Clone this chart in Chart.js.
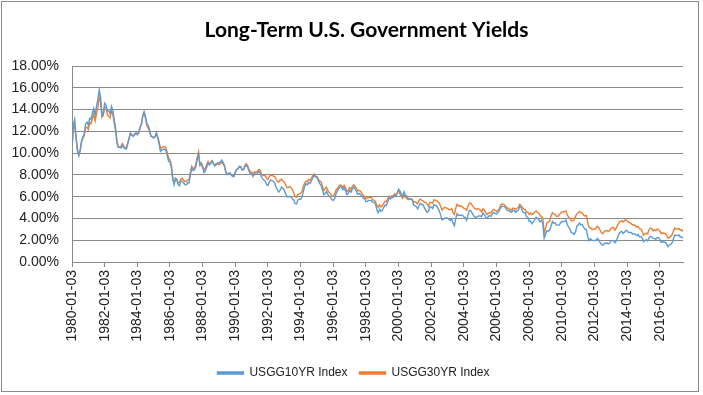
<!DOCTYPE html>
<html>
<head>
<meta charset="utf-8">
<script src="https://cdn.jsdelivr.net/npm/chart.js@4.4.1/dist/chart.umd.min.js"></script>
<style>
  html, body { margin: 0; padding: 0; background: #fff; }
  #wrap { width: 703px; height: 395px; position: relative; }
</style>
</head>
<body>
<div id="wrap"><canvas id="c" width="703" height="395"></canvas></div>
<script>
// Monthly observations, first month = January 1980
const startYear = 1980;
const chartTitle = 'Long-Term U.S. Government Yields';
const seriesNames = ["USGG10YR Index", "USGG30YR Index"];
const yTicks = [0, 2, 4, 6, 8, 10, 12, 14, 16, 18];
const xTickYears = [1980,1982,1984,1986,1988,1990,1992,1994,1996,1998,2000,2002,2004,2006,2008,2010,2012,2014,2016];

const us10y = [
  10.50, 12.60, 13.10, 11.47, 10.18, 9.78, 10.25, 11.10, 11.51, 11.75, 12.68, 12.84,
  12.57, 13.19, 13.12, 13.68, 14.10, 13.47, 14.28, 14.94, 15.80, 15.15, 13.39, 13.72,
  14.59, 14.43, 13.86, 13.87, 13.62, 14.30, 13.95, 13.06, 12.34, 10.91, 10.55, 10.54,
  10.46, 10.72, 10.51, 10.40, 10.38, 10.85, 11.38, 11.85, 11.65, 11.54, 11.69, 11.83,
  11.67, 11.84, 12.32, 12.63, 13.41, 13.80, 13.36, 12.72, 12.52, 12.16, 11.57, 11.50,
  11.38, 11.51, 11.86, 11.43, 10.85, 10.16, 10.31, 10.33, 10.37, 10.24, 9.78, 9.26,
  9.19, 8.70, 7.60, 7.10, 7.71, 7.60, 7.10, 7.00, 7.45, 7.43, 7.25, 7.11,
  7.08, 7.25, 7.25, 8.02, 8.61, 8.40, 8.45, 8.76, 9.42, 9.90, 8.86, 8.99,
  8.67, 8.21, 8.37, 8.72, 9.09, 8.92, 9.06, 9.26, 8.98, 8.80, 8.96, 9.11,
  9.09, 9.17, 9.36, 9.18, 8.86, 8.28, 8.02, 8.11, 8.19, 8.01, 7.87, 7.84,
  8.21, 8.47, 8.59, 8.79, 8.76, 8.48, 8.47, 8.75, 8.89, 8.72, 8.39, 8.08,
  8.09, 7.85, 8.11, 8.04, 8.07, 8.28, 8.27, 7.90, 7.65, 7.53, 7.42, 7.09,
  7.03, 7.34, 7.54, 7.48, 7.39, 7.26, 6.84, 6.59, 6.42, 6.59, 6.87, 6.77,
  6.60, 6.26, 5.98, 5.97, 6.04, 5.96, 5.81, 5.68, 5.36, 5.33, 5.72, 5.77,
  5.75, 5.97, 6.48, 6.97, 7.18, 7.10, 7.30, 7.24, 7.46, 7.74, 7.96, 7.81,
  7.78, 7.47, 7.20, 7.06, 6.63, 6.17, 6.28, 6.49, 6.20, 6.04, 5.93, 5.71,
  5.65, 5.81, 6.27, 6.51, 6.74, 6.91, 6.87, 6.64, 6.83, 6.53, 6.20, 6.30,
  6.58, 6.42, 6.69, 6.89, 6.71, 6.49, 6.22, 6.30, 6.21, 6.03, 5.88, 5.81,
  5.54, 5.57, 5.65, 5.64, 5.65, 5.50, 5.46, 5.34, 4.81, 4.53, 4.83, 4.65,
  4.72, 5.00, 5.23, 5.18, 5.54, 5.90, 5.79, 5.94, 5.92, 6.11, 6.03, 6.28,
  6.66, 6.52, 6.26, 5.99, 6.44, 6.10, 6.05, 5.83, 5.80, 5.74, 5.72, 5.24,
  5.16, 5.10, 4.89, 5.14, 5.39, 5.28, 5.24, 4.97, 4.73, 4.57, 4.65, 5.09,
  5.04, 4.91, 5.28, 5.21, 5.16, 4.93, 4.65, 4.26, 3.87, 3.94, 4.05, 4.03,
  4.05, 3.90, 3.81, 3.96, 3.57, 3.33, 3.98, 4.45, 4.27, 4.29, 4.30, 4.27,
  4.15, 4.08, 3.83, 4.35, 4.72, 4.73, 4.50, 4.28, 4.13, 4.10, 4.19, 4.23,
  4.22, 4.17, 4.50, 4.34, 4.14, 4.00, 4.18, 4.26, 4.20, 4.46, 4.54, 4.47,
  4.42, 4.57, 4.72, 4.99, 5.11, 5.11, 5.09, 4.88, 4.72, 4.73, 4.60, 4.56,
  4.76, 4.72, 4.56, 4.69, 4.75, 5.10, 5.00, 4.67, 4.52, 4.53, 4.15, 4.10,
  3.74, 3.74, 3.51, 3.68, 3.88, 4.10, 4.01, 3.89, 3.69, 3.81, 3.53, 2.20,
  2.52, 2.87, 2.82, 2.93, 3.29, 3.72, 3.56, 3.59, 3.40, 3.39, 3.40, 3.59,
  3.73, 3.69, 3.73, 3.85, 3.42, 3.20, 3.01, 2.70, 2.65, 2.54, 2.76, 3.29,
  3.39, 3.58, 3.41, 3.46, 3.17, 3.00, 3.00, 2.30, 1.98, 2.15, 2.01, 1.98,
  1.97, 1.97, 2.17, 2.05, 1.80, 1.62, 1.53, 1.68, 1.72, 1.75, 1.65, 1.72,
  1.91, 1.98, 1.96, 1.76, 1.93, 2.30, 2.58, 2.74, 2.81, 2.62, 2.72, 2.90,
  2.86, 2.71, 2.72, 2.71, 2.56, 2.60, 2.54, 2.42, 2.53, 2.30, 2.33, 2.21,
  1.88, 1.98, 2.04, 1.94, 2.20, 2.36, 2.32, 2.17, 2.17, 2.07, 2.26, 2.24,
  2.09, 1.78, 1.89, 1.81, 1.81, 1.64, 1.42, 1.56, 1.63, 1.76, 2.14, 2.49,
  2.43, 2.42, 2.48, 2.30, 2.30, 2.19
];

const us30y = [
  10.30, 12.30, 12.50, 11.40, 10.36, 9.81, 10.24, 11.00, 11.34, 11.59, 12.37, 12.40,
  12.14, 12.80, 12.69, 13.20, 13.60, 12.96, 13.59, 14.17, 15.10, 14.68, 13.35, 13.45,
  14.22, 14.22, 13.53, 13.37, 13.24, 13.92, 13.55, 12.77, 12.07, 11.17, 10.54, 10.54,
  10.63, 10.88, 10.63, 10.48, 10.53, 10.93, 11.40, 11.82, 11.63, 11.58, 11.75, 11.88,
  11.75, 11.95, 12.38, 12.65, 13.43, 13.70, 13.21, 12.54, 12.29, 11.98, 11.56, 11.52,
  11.45, 11.47, 11.81, 11.47, 11.05, 10.44, 10.50, 10.56, 10.61, 10.50, 10.06, 9.54,
  9.40, 8.93, 7.80, 7.30, 7.52, 7.57, 7.27, 7.33, 7.62, 7.70, 7.52, 7.37,
  7.39, 7.54, 7.55, 8.25, 8.78, 8.57, 8.64, 8.97, 9.59, 10.10, 8.95, 9.12,
  8.83, 8.43, 8.63, 8.95, 9.23, 9.00, 9.14, 9.32, 9.06, 8.89, 9.02, 9.01,
  8.93, 9.01, 9.17, 9.03, 8.83, 8.27, 8.08, 8.12, 8.15, 8.00, 7.90, 7.90,
  8.26, 8.50, 8.56, 8.76, 8.73, 8.46, 8.50, 8.86, 9.03, 8.86, 8.54, 8.24,
  8.27, 8.03, 8.29, 8.21, 8.27, 8.47, 8.45, 8.14, 7.95, 7.93, 7.92, 7.70,
  7.58, 7.85, 7.97, 7.96, 7.89, 7.84, 7.60, 7.39, 7.34, 7.53, 7.61, 7.44,
  7.34, 7.09, 6.82, 6.85, 6.92, 6.81, 6.63, 6.32, 6.00, 5.94, 6.21, 6.25,
  6.29, 6.49, 6.91, 7.27, 7.41, 7.40, 7.58, 7.49, 7.71, 7.94, 8.08, 7.87,
  7.85, 7.61, 7.45, 7.36, 6.95, 6.57, 6.72, 6.86, 6.55, 6.37, 6.26, 6.06,
  6.05, 6.24, 6.60, 6.79, 6.93, 7.06, 7.03, 6.84, 7.03, 6.81, 6.48, 6.55,
  6.83, 6.69, 6.93, 7.09, 6.94, 6.77, 6.51, 6.58, 6.50, 6.33, 6.11, 5.99,
  5.81, 5.89, 5.95, 5.92, 5.93, 5.70, 5.68, 5.54, 5.20, 5.01, 5.25, 5.06,
  5.16, 5.37, 5.58, 5.55, 5.81, 6.04, 5.98, 6.07, 6.07, 6.26, 6.15, 6.35,
  6.63, 6.23, 6.05, 5.85, 6.15, 5.93, 5.85, 5.72, 5.83, 5.80, 5.78, 5.49,
  5.54, 5.45, 5.34, 5.65, 5.78, 5.67, 5.61, 5.48, 5.48, 5.32, 5.12, 5.48,
  5.45, 5.40, 5.71, 5.67, 5.64, 5.52, 5.38, 5.08, 4.76, 4.93, 5.03, 4.96,
  4.92, 4.81, 4.80, 4.90, 4.53, 4.37, 4.93, 5.30, 5.14, 5.16, 5.12, 5.07,
  4.93, 4.90, 4.74, 5.14, 5.42, 5.41, 5.22, 5.06, 4.90, 4.85, 4.89, 4.88,
  4.77, 4.61, 4.89, 4.75, 4.56, 4.35, 4.48, 4.53, 4.51, 4.74, 4.83, 4.73,
  4.65, 4.73, 4.91, 5.22, 5.35, 5.29, 5.25, 5.08, 4.93, 4.94, 4.78, 4.78,
  4.95, 4.93, 4.81, 4.95, 4.98, 5.29, 5.19, 5.00, 4.84, 4.83, 4.56, 4.57,
  4.35, 4.49, 4.36, 4.44, 4.60, 4.69, 4.57, 4.50, 4.27, 4.17, 4.00, 2.60,
  3.13, 3.59, 3.64, 3.76, 4.23, 4.52, 4.41, 4.37, 4.19, 4.19, 4.31, 4.49,
  4.60, 4.62, 4.64, 4.69, 4.29, 4.13, 3.99, 3.80, 3.77, 3.87, 4.19, 4.42,
  4.52, 4.65, 4.51, 4.50, 4.29, 4.23, 4.27, 3.65, 3.18, 3.13, 3.02, 2.98,
  3.03, 3.11, 3.28, 3.18, 2.93, 2.70, 2.59, 2.77, 2.88, 2.90, 2.80, 2.88,
  3.08, 3.17, 3.16, 2.93, 3.11, 3.40, 3.61, 3.76, 3.79, 3.68, 3.80, 3.89,
  3.77, 3.66, 3.62, 3.52, 3.39, 3.42, 3.33, 3.20, 3.26, 3.04, 3.04, 2.83,
  2.46, 2.57, 2.63, 2.59, 2.96, 3.11, 3.07, 2.86, 2.95, 2.89, 3.03, 2.97,
  2.86, 2.62, 2.68, 2.62, 2.63, 2.45, 2.18, 2.26, 2.35, 2.50, 2.86, 3.11,
  3.02, 3.03, 3.08, 2.94, 2.96, 2.80
];

// Month positions (decimal years) for each observation
function toPoints(vals) {
  return vals.map((v, i) => ({ x: startYear + i / 12, y: v }));
}
const lastX = startYear + (us10y.length - 1) / 12;

const frameAndTitle = {
  id: 'frameAndTitle',
  afterLayout(chart) {
    // Excel centres the legend slightly right of the canvas centre
    if (chart.legend) { chart.legend.left += 12; chart.legend.right += 12; }
  },
  beforeDraw(chart) {
    const ctx = chart.ctx;
    ctx.save();
    ctx.fillStyle = '#ffffff';
    ctx.fillRect(0, 0, chart.width, chart.height);
    ctx.strokeStyle = '#8a8a8a';
    ctx.lineWidth = 1;
    ctx.strokeRect(1.5, 1.5, 697, 390);
    ctx.restore();
  },
  afterDraw(chart) {
    const ctx = chart.ctx;
    ctx.save();
    ctx.fillStyle = '#000';
    ctx.font = 'bold 21px Lato';
    ctx.textAlign = 'center';
    ctx.textBaseline = 'middle';
    ctx.fillText(chartTitle, 366.5, 30);
    ctx.restore();
  }
};

new Chart(document.getElementById('c'), {
  type: 'line',
  data: {
    datasets: [
      { label: seriesNames[0], data: toPoints(us10y), borderColor: '#5B9BD5', backgroundColor: '#5B9BD5', borderWidth: 1.4, pointRadius: 0, tension: 0 },
      { label: seriesNames[1], data: toPoints(us30y), borderColor: '#ED7D31', backgroundColor: '#ED7D31', borderWidth: 1.4, pointRadius: 0, tension: 0 }
    ]
  },
  options: {
    responsive: false,
    animation: false,
    layout: { padding: { top: 66, left: 0, right: 20, bottom: 6 } },
    plugins: {
      title: { display: false },
      legend: {
        position: 'bottom',
        labels: {
          color: '#222',
          font: { family: 'Liberation Sans', size: 12 },
          boxWidth: 26,
          boxHeight: 2,
          padding: 12
        }
      },
      tooltip: { enabled: false }
    },
    scales: {
      x: {
        type: 'linear',
        min: startYear,
        max: lastX,
        afterBuildTicks(scale) { scale.ticks = xTickYears.map(v => ({ value: v })); },
        afterFit(scale) { scale.height = 93; },
        ticks: {
          autoSkip: false,
          maxRotation: 90,
          minRotation: 90,
          color: '#222',
          font: { family: 'Liberation Sans', size: 14 },
          padding: 3,
          callback: v => v + '-01-03'
        },
        grid: { display: true, drawOnChartArea: false, drawTicks: true, tickLength: 5, color: '#8a8a8a' },
        border: { display: true, color: '#8a8a8a' }
      },
      y: {
        min: 0,
        max: 18,
        afterBuildTicks(scale) { scale.ticks = yTicks.map(v => ({ value: v })); },
        afterFit(scale) { scale.width = 72; },
        ticks: {
          color: '#222',
          font: { family: 'Liberation Sans', size: 14 },
          padding: 13,
          callback: v => v.toFixed(2) + '%'
        },
        grid: { color: '#8a8a8a', drawTicks: false },
        border: { display: true, color: '#8a8a8a' }
      }
    }
  },
  plugins: [frameAndTitle]
});
</script>
</body>
</html>
